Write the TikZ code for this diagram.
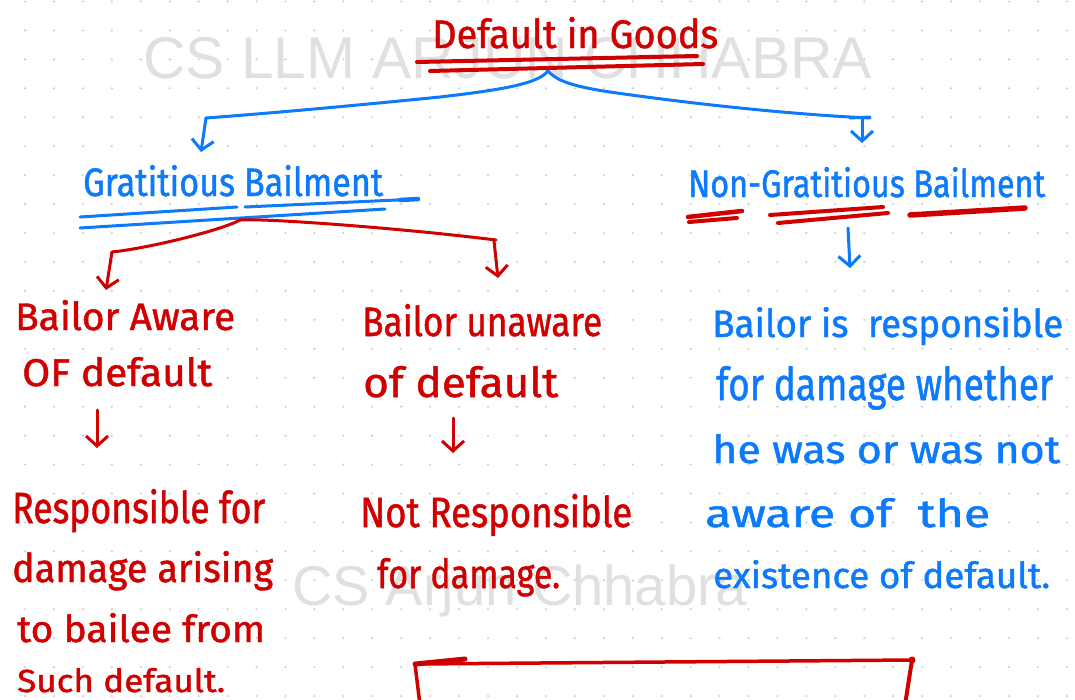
\documentclass[tikz,border=0pt]{standalone}
\usepackage{fontspec}
\setmainfont{Fira Sans}[FakeBold=1.2]
\newfontfamily\wmfont{Liberation Sans}
\usetikzlibrary{arrows.meta}

\definecolor{ink}{RGB}{208,0,0}
\definecolor{pen}{RGB}{12,122,250}
\definecolor{wm}{RGB}{224,224,224}
\definecolor{griddot}{RGB}{206,206,206}

% scale a text to a given width and height (both in pt)
\newcommand\fitto[3]{\resizebox{#1pt}{#2pt}{#3}}

\tikzset{
  hand/.style={inner sep=0pt, anchor=base west, font=\fontsize{40}{40}\selectfont},
  redtxt/.style={hand, text=ink},
  bluetxt/.style={hand, text=pen},
  watermark/.style={inner sep=0pt, anchor=base west, text=wm, font=\wmfont\fontsize{60}{60}\selectfont},
  redline/.style={draw=ink, line width=3pt, line cap=round, line join=round},
  blueline/.style={draw=pen, line width=3pt, line cap=round, line join=round},
  hoof/.style={-{Straight Barb[length=10pt, width=22pt, line width=3pt]}},
}

\begin{document}
\begin{tikzpicture}[x=1pt, y=-1pt]
\useasboundingbox (0,0) rectangle (1075,699);
\fill[white] (0,0) rectangle (1075,699);

% dotted paper
\foreach \i in {0,...,37}{
  \foreach \j in {0,...,24}{
    \fill[griddot] ({25+28.94*\i},{1.5+28.94*\j}) circle (1.2);
  }
}

% watermarks
\node[watermark] (wmtop) at (143,78) {\resizebox{729pt}{!}{CS LLM ARJUN CHHABRA}};
\node[watermark] (wmmid) at (292,605) {\resizebox{455pt}{!}{CS Arjun Chhabra}};

% title
\node[redtxt] (title) at (432,48) {\fitto{286}{31}{Default in Goods}};
\draw[redline, line width=4pt] (417,62) -- (697,56);
\draw[redline, line width=4pt] (430,71) -- (703,64);

% the two kinds of bailment
\node[bluetxt] (grat) at (83,196) {\fitto{300}{31}{Gratitious Bailment}};
\node[bluetxt] (nongrat) at (688,197) {\fitto{357}{30}{Non-Gratitious Bailment}};

\draw[blueline] (80,217) -- (237,207);
\draw[blueline] (245,207) -- (418,199);
\draw[blueline, line width=4.5pt] (400,200) -- (418,199);
\draw[blueline] (80,228) -- (385,209);

\draw[redline, line width=4.5pt] (688,217) -- (742,211);
\draw[redline, line width=4pt] (689,222) -- (737,218);
\draw[redline, line width=4pt] (770,215) -- (883,207);
\draw[redline, line width=4pt] (778,223) -- (888,213);
\draw[redline, line width=5.5pt] (910,215) -- (1025,208);

% branch from the title
\coordinate (hub) at (548,71);
\coordinate (gratin) at (201,152);
\coordinate (nongratin) at (862,143);
\draw[blueline] (hub) .. controls (538,84) and (500,90) .. (440,97)
  .. controls (340,107) and (260,114) .. (206,118);
\draw[blueline, hoof] (206,118) -- (gratin);
\draw[blueline] (hub) .. controls (556,80) and (570,86) .. (610,92)
  .. controls (700,105) and (800,115) .. (870,118);
\draw[blueline] (850,118) -- (870,117);
\draw[blueline, hoof] (862,118) -- (nongratin);

% gratuitous bailment: two cases
\node[redtxt] (aware1) at (15,330) {\fitto{220}{30}{Bailor Aware}};
\node[redtxt] (aware2) at (22,386) {\fitto{190}{29}{OF default}};
\node[redtxt] (un1) at (362,336) {\fitto{240}{32}{Bailor unaware}};
\node[redtxt] (un2) at (363,397) {\fitto{195}{31}{of default}};

\coordinate (rhub) at (240,220);
\coordinate (awarein) at (106,290);
\coordinate (unin) at (498,278);
\draw[redline] (rhub) .. controls (222,230) and (150,248) .. (112,252);
\draw[redline, hoof] (112,252) -- (awarein);
\draw[redline] (rhub) .. controls (262,218) and (400,228) .. (496,240);
\draw[redline, hoof] (494,241) -- (unin);

% consequences
\coordinate (a1) at (97,410);
\coordinate (a2) at (97,448);
\draw[redline, hoof] (a1) -- (a2);
\coordinate (u1) at (453,418);
\coordinate (u2) at (453,453);
\draw[redline, hoof] (u1) -- (u2);

\node[redtxt] (resp1) at (12,523) {\fitto{253}{34}{Responsible for}};
\node[redtxt] (resp2) at (12,582) {\fitto{261}{31}{damage arising}};
\node[redtxt] (resp3) at (17,642) {\fitto{248}{29}{to bailee from}};
\node[redtxt] (resp4) at (17,692) {\fitto{208}{24}{Such default.}};

\node[redtxt] (not1) at (360,527) {\fitto{272}{33}{Not Responsible}};
\node[redtxt] (not2) at (377,588) {\fitto{183}{30}{for damage.}};

% non-gratuitous bailment
\coordinate (n1) at (848,228);
\coordinate (n2) at (850,268);
\draw[blueline, hoof] (n1) -- (n2);

\node[bluetxt] (r1) at (712,337) {\fitto{351}{30}{Bailor is\ \ responsible}};
\node[bluetxt] (r2) at (716,400) {\fitto{337}{34}{for damage whether}};
\node[bluetxt] (r3) at (712,463) {\fitto{348}{29}{he was or was not}};
\node[bluetxt] (r4) at (705,527) {\fitto{285}{29}{aware of\ \ the}};
\node[bluetxt] (r5) at (713,588) {\fitto{337}{28}{existence of default.}};

% frame at the foot of the page
\draw[redline, line width=3.5pt] (912,660) -- (415,664) -- (420,705);
\draw[redline, line width=5pt] (415,664) -- (465,659);
\draw[redline, line width=4pt] (912,660) -- (905,705);
\fill[ink] (912,660) circle (3.5);
\end{tikzpicture}
\end{document}
